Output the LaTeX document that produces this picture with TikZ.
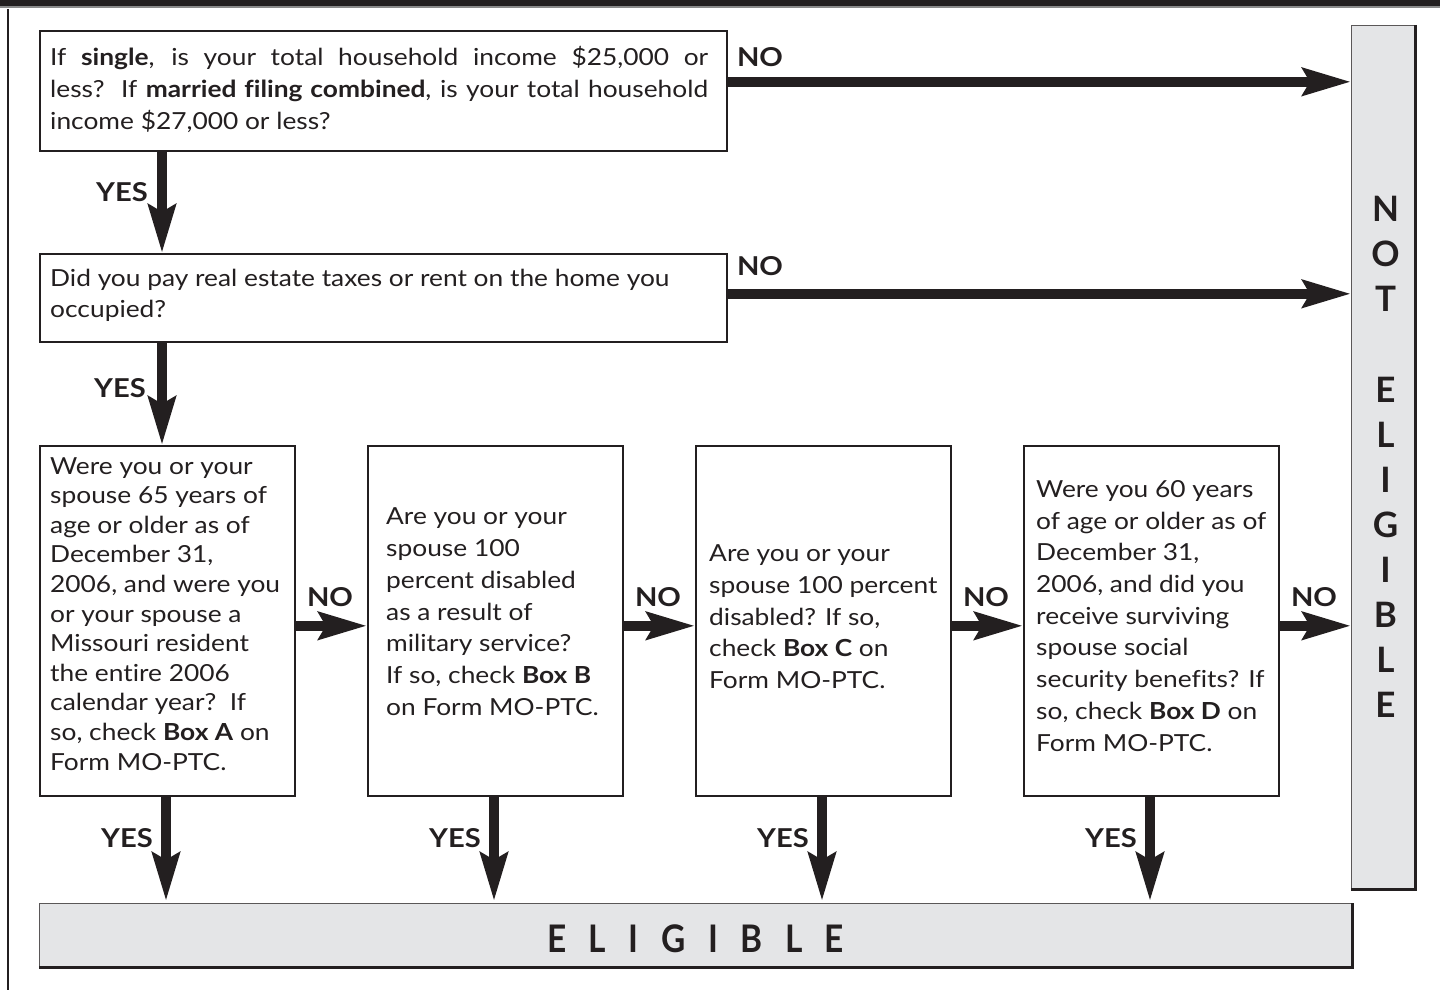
\documentclass[tikz,border=0pt]{standalone}
\usepackage{fontspec}
\setmainfont{Lato}[FakeStretch=1.12, Ligatures=CommonOff]
\newfontfamily\bigfont{Lato}
\newfontfamily\elfont{Lato}[FakeStretch=0.88]
\usetikzlibrary{arrows.meta,calc}
\definecolor{ink}{HTML}{231F20}
\definecolor{panel}{HTML}{E4E5E7}
\definecolor{rule}{HTML}{8A8A8A}
\begin{document}
\begin{tikzpicture}[x=1pt,y=-1pt,
  qbox/.style={draw=ink, line width=1.6pt, fill=white, inner sep=0pt, anchor=north west},
  gbox/.style={draw=ink!75, line width=1.4pt, fill=panel, inner sep=0pt, anchor=north west},
  qtext/.style={inner sep=0pt, anchor=west, align=left, text=ink},
  lab/.style={inner sep=0pt, text=ink, font=\bfseries\fontsize{26}{26}\selectfont},
  bigarrow/.style={draw=ink, line width=10pt, -{Stealth[length=48pt, width=27pt, inset=7pt]}},
  body/.style={font=\fontsize{23.5}{#1}\selectfont}
]
\useasboundingbox (0,0) rectangle (1440,990);
% frame
\fill[ink] (0,0) rectangle (1440,6);
\draw[rule, line width=1.5pt] (0,7) -- (1440,7);
\draw[ink, line width=2pt] (8.3,9) -- (8.3,990);

% boxes
\node[qbox, minimum width=687pt, minimum height=120pt] (q1) at (39,30) {};
\node[qbox, minimum width=687pt, minimum height=88pt] (q2) at (39,253) {};
\node[qbox, minimum width=255pt, minimum height=350pt] (qa) at (39,445) {};
\node[qbox, minimum width=255pt, minimum height=350pt] (qb) at (367,445) {};
\node[qbox, minimum width=255pt, minimum height=350pt] (qc) at (695,445) {};
\node[qbox, minimum width=255pt, minimum height=350pt] (qd) at (1023,445) {};
\node[gbox, minimum width=63pt, minimum height=863pt] (ne) at (1351,25) {};
\node[gbox, minimum width=1312pt, minimum height=63pt] (el) at (39,903) {};
\draw[ink, line width=2.2pt] (ne.north east) -- (ne.south east) -- (ne.south west);
\draw[ink, line width=2.2pt] (el.north east) -- (el.south east) -- (el.south west);

% texts
\node[qtext, body=31.7] (t1) at ($(q1.west)+(11,-1.5)$)
 {\makebox[658pt][s]{If \textbf{single}, is your total household income \$25,000 or}\\
  \makebox[658pt][s]{less?\ \ If \textbf{married filing combined}, is your total household}\\
  income \$27,000 or less?};
\node[qtext, body=31] (t2) at ($(q2.west)+(11,-2.5)$)
 {Did you pay real estate taxes or rent on the home you\\occupied?};
\node[qtext, body=29.6] (ta) at ($(qa.west)+(11,-7)$)
 {Were you or your\\spouse 65 years of\\age or older as of\\December 31,\\2006, and were you\\or your spouse a\\Missouri resident\\the entire 2006\\calendar year?\ \ If\\so, check \textbf{Box A} on\\Form MO-PTC.};
\node[qtext, body=31.8] (tb) at ($(qb.west)+(19,-9)$)
 {Are you or your\\spouse 100\\percent disabled\\as a result of\\military service?\\If so, check \textbf{Box B}\\on Form MO-PTC.};
\node[qtext, body=31.7] (tc) at ($(qc.west)+(14,-4)$)
 {Are you or your\\spouse 100 percent\\disabled? If so,\\check \textbf{Box C} on\\Form MO-PTC.};
\node[qtext, body=31.7] (td) at ($(qd.west)+(13,-5)$)
 {Were you 60 years\\of age or older as of\\December 31,\\2006, and did you\\receive surviving\\spouse social\\security benefits? If\\so, check \textbf{Box D} on\\Form MO-PTC.};

\node[inner sep=0pt, text=ink, align=center, font=\bigfont\bfseries\fontsize{35}{45.1}\selectfont] (tne) at (1385.5,457)
 {N\\O\\T\\\mbox{}\\E\\L\\I\\G\\I\\B\\L\\E};
\node[inner sep=0pt, text=ink, font=\elfont\bfseries\fontsize{38}{38}\selectfont] (tel) at ($(el.center)+(0,3.5)$)
 {E\hspace{22.5pt}L\hspace{22.5pt}I\hspace{22.5pt}G\hspace{22.5pt}I\hspace{22.5pt}B\hspace{22.5pt}L\hspace{22.5pt}E};

% arrows
\draw[bigarrow] ([yshift=9pt]q1.east) -- ([yshift=9pt]q1.east -| ne.west);
\draw[bigarrow] ([yshift=4pt]q2.east) -- ([yshift=4pt]q2.east -| ne.west);
\draw[bigarrow] ($(q1.south west)+(123,0)$) -- ($(q2.north west)+(123,0)$);
\draw[bigarrow] ($(q2.south west)+(123,0)$) -- ($(qa.north west)+(123,0)$);
\draw[bigarrow] ([yshift=-5pt]qa.east) -- ([yshift=-5pt]qb.west);
\draw[bigarrow] ([yshift=-5pt]qb.east) -- ([yshift=-5pt]qc.west);
\draw[bigarrow] ([yshift=-5pt]qc.east) -- ([yshift=-5pt]qd.west);
\draw[bigarrow] ([yshift=-5pt]qd.east) -- ([yshift=-5pt]qd.east -| ne.west);
\foreach \b in {qa,qb,qc,qd}{
  \draw[bigarrow] ($(\b.south west)+(127,0)$) -- ($(\b.south west |- el.north)+(127,-2)$);
}

% labels
\node[lab] (n1) at (760,57) {NO};
\node[lab] (n2) at (760,266) {NO};
\node[lab] (y1) at (122,192) {YES};
\node[lab] (y2) at (120,388) {YES};
\node[lab] (n3) at (330,597) {NO};
\node[lab] (n4) at (658,597) {NO};
\node[lab] (n5) at (986,597) {NO};
\node[lab] (n6) at (1314,597) {NO};
\node[lab] (y3) at (127,838) {YES};
\node[lab] (y4) at (455,838) {YES};
\node[lab] (y5) at (783,838) {YES};
\node[lab] (y6) at (1111,838) {YES};
\end{tikzpicture}
\end{document}
